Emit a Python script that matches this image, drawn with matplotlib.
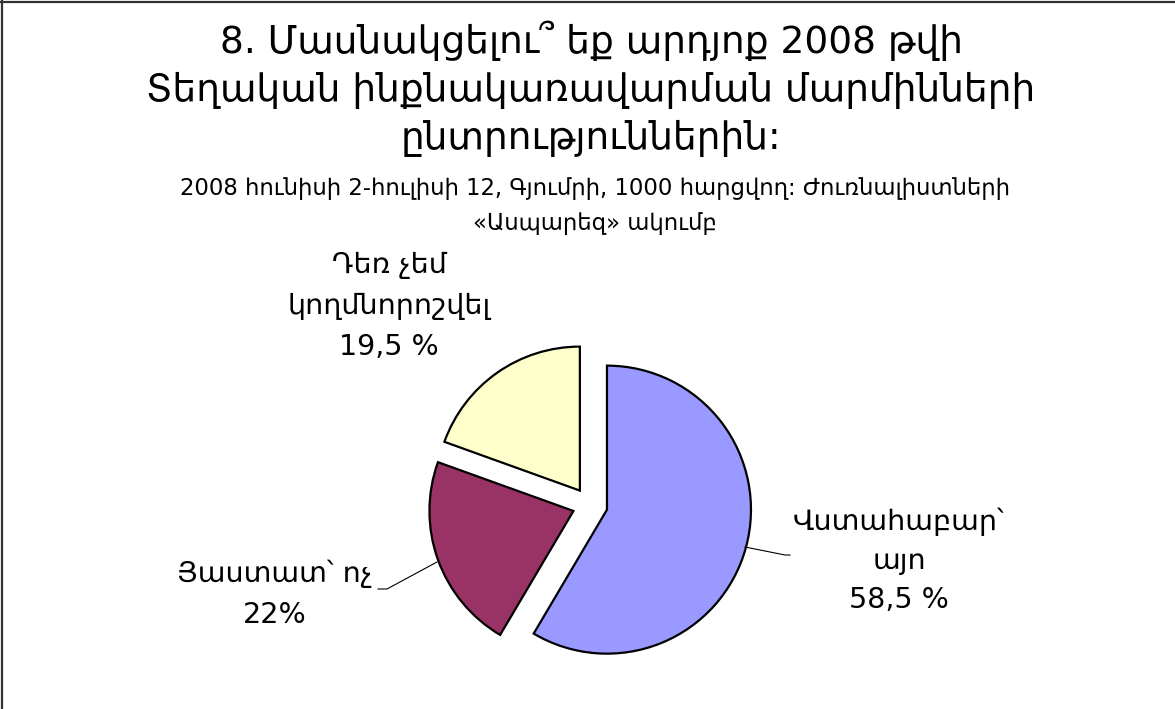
import matplotlib
matplotlib.use("Agg")
import matplotlib.pyplot as plt

# Տվյալներ
labels = ["Վստահաբար՝\nայո\n58,5 %", "Յաստատ՝ ոչ\n22%", "Դեռ չեմ\nկողմնորոշվել\n19,5 %"]
values = [58.5, 22, 19.5]
colors = ["#9999FF", "#993366", "#FFFFCC"]

title_lines = ["8. Մասնակցելու՞ եք արդյոք 2008 թվի",
               "Տեղական ինքնակառավարման մարմինների",
               "ընտրություններին:"]
subtitle_lines = ["2008 հունիսի 2-հուլիսի 12, Գյումրի, 1000 հարցվող: Ժուռնալիստների",
                  "«Ասպարեզ» ակումբ"]

W, H = 1175, 709
plt.rcParams["font.family"] = ["DejaVu Sans"]

fig = plt.figure(figsize=(W / 100, H / 100), dpi=100)
ax = fig.add_axes([0, 0, 1, 1])
ax.set_xlim(0, W)
ax.set_ylim(0, H)
ax.set_aspect("equal")
ax.axis("off")

# y-ը վերևից
def Y(y):
    return H - y

ax.pie(values, colors=colors, startangle=90, counterclock=False,
       center=(590, Y(505)), radius=144, explode=[17.6] * 3,
       wedgeprops=dict(edgecolor="black", linewidth=1.6), frame=True)
ax.set_xlim(0, W)
ax.set_ylim(0, H)
ax.axis("off")

# վերնագիր
for line, yb in zip(title_lines, [53, 101, 149]):
    ax.text(591, Y(yb), line, ha="center", va="baseline", fontsize=27)
for line, yb in zip(subtitle_lines, [195, 230]):
    ax.text(595, Y(yb), line, ha="center", va="baseline", fontsize=16.4)

# պիտակներ
label_pos = [(899, [530, 569, 608]), (275, [582, 623]), (389, [273, 314, 355])]
for text, (x, ybs) in zip(labels, label_pos):
    for line, yb in zip(text.split("\n"), ybs):
        ax.text(x, Y(yb), line, ha="center", va="baseline", fontsize=20.5)

# ուղղորդող գծեր
ax.plot([745, 785, 790], [Y(547), Y(555), Y(555)], color="black", lw=0.8)
ax.plot([378, 387, 437], [Y(589), Y(589), Y(562)], color="black", lw=0.8)

# շրջանակ
ax.plot([2, 2], [0, H], color="#333333", lw=1.6, clip_on=False)
ax.plot([0, W], [Y(2), Y(2)], color="#333333", lw=1.6, clip_on=False)

fig.savefig("out.png", dpi=100)
